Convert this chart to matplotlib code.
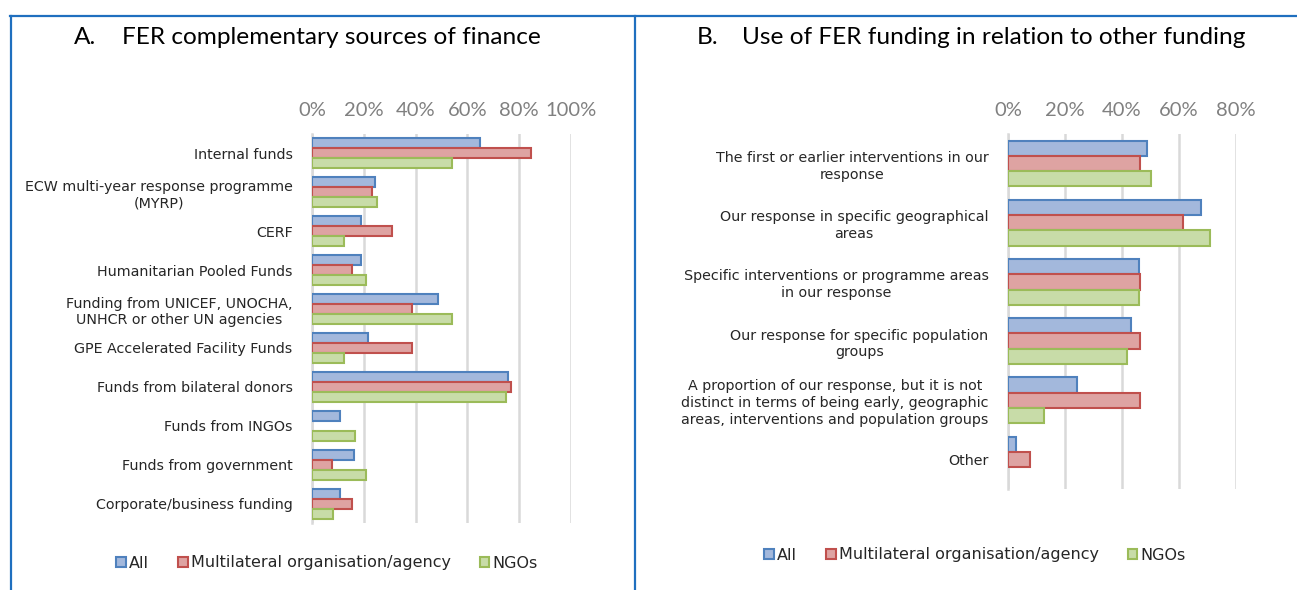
import matplotlib
matplotlib.use("Agg")
import matplotlib.pyplot as plt
from matplotlib.lines import Line2D
from matplotlib.patches import Patch
import numpy as np

#%% Data
series = ['All', 'Multilateral organisation/agency', 'NGOs']

cats_a = ['Internal funds',
          'ECW multi-year response programme\n(MYRP)',
          'CERF',
          'Humanitarian Pooled Funds',
          'Funding from UNICEF, UNOCHA,\nUNHCR or other UN agencies',
          'GPE Accelerated Facility Funds',
          'Funds from bilateral donors',
          'Funds from INGOs',
          'Funds from government',
          'Corporate/business funding']
all_a = [0.65, 0.245, 0.19, 0.19, 0.487, 0.217, 0.757, 0.108, 0.162, 0.108]
multi_a = [0.846, 0.231, 0.308, 0.154, 0.385, 0.385, 0.769, 0.0, 0.077, 0.154]
ngo_a = [0.542, 0.25, 0.125, 0.208, 0.542, 0.125, 0.75, 0.167, 0.208, 0.083]

cats_b = ['The first or earlier interventions in our\nresponse',
          'Our response in specific geographical\nareas',
          'Specific interventions or programme areas\nin our response',
          'Our response for specific population\ngroups',
          'A proportion of our response, but it is not\ndistinct in terms of being early, geographic\nareas, interventions and population groups',
          'Other']
all_b = [0.486, 0.676, 0.459, 0.432, 0.243, 0.027]
multi_b = [0.462, 0.615, 0.462, 0.462, 0.462, 0.077]
ngo_b = [0.5, 0.708, 0.458, 0.417, 0.125, 0.0]

fills = ['#a3b8dc', '#dea3a2', '#c8dca8']
edges = ['#4f81bd', '#c0504d', '#9bbb59']

W, H = 1297, 590
fig = plt.figure(figsize=(W / 100, H / 100), dpi=100)


def px_axes(x0, y0, x1, y1):
    return fig.add_axes([x0 / W, 1 - y1 / H, (x1 - x0) / W, (y1 - y0) / H])


def draw_panel(ax, cats, vals, xmax, ticks):
    n = len(cats)
    y = np.arange(n)
    h = 0.257
    for i, v in enumerate(vals):
        v = np.array(v)
        # zero values get no outline, so nothing shows (as in Excel)
        ec = [edges[i] if x > 0 else 'none' for x in v]
        ax.barh(y + (i - 1) * h, v, height=h, color=fills[i], edgecolor=ec,
                linewidth=1.5, zorder=3)
    ax.set_ylim(n - 0.5, -0.5)
    ax.set_xlim(0, xmax)
    ax.set_yticks(y)
    ax.set_yticklabels(cats, fontsize=10.3, color='#262626', family='DejaVu Sans',
                       multialignment='center', linespacing=1.25)
    ax.set_xticks(ticks)
    ax.set_xticklabels([f'{int(round(t * 100))}%' for t in ticks], fontsize=14.5,
                       color='#808080', family='Lato')
    ax.xaxis.tick_top()
    ax.tick_params(axis='x', length=0, pad=11)
    ax.tick_params(axis='y', length=0, pad=14)
    for s in ['top', 'right', 'bottom']:
        ax.spines[s].set_visible(False)
    ax.spines['left'].set_color('#d9d9d9')
    ax.spines['left'].set_linewidth(1.8)
    ax.grid(axis='x', color='#d9d9d9', linewidth=1.8, zorder=0)
    ax.set_axisbelow(True)


ax1 = px_axes(312, 134, 571, 523)
draw_panel(ax1, cats_a, [all_a, multi_a, ngo_a], 1.0, [0, 0.2, 0.4, 0.6, 0.8, 1.0])
ax2 = px_axes(1008, 134, 1236, 489)
draw_panel(ax2, cats_b, [all_b, multi_b, ngo_b], 0.8, [0, 0.2, 0.4, 0.6, 0.8])

# titles
tsize = 17.6
fig.text(74 / W, 1 - 37 / H, 'A.', fontsize=tsize, family='Lato', va='center')
fig.text(122 / W, 1 - 37 / H, 'FER complementary sources of finance', fontsize=tsize,
         family='Lato', va='center')
fig.text(697 / W, 1 - 37 / H, 'B.', fontsize=tsize, family='Lato', va='center')
fig.text(742 / W, 1 - 37 / H, 'Use of FER funding in relation to other funding', fontsize=tsize,
         family='Lato', va='center')

# legends
handles = [Patch(facecolor=fills[i], edgecolor=edges[i], linewidth=1.5, label=series[i])
           for i in range(3)]
for cx, cy in [(327, 563), (975, 555)]:
    fig.legend(handles=handles, loc='center', bbox_to_anchor=(cx / W, 1 - cy / H), ncol=3,
               frameon=False, prop={'family': 'DejaVu Sans', 'size': 11.5},
               handlelength=0.6, handleheight=0.6, handletextpad=0.2, columnspacing=1.8,
               labelcolor='#262626')

# panel borders
blue = '#1f6fbf'
fig.add_artist(Line2D([10 / W, 1], [1 - 16 / H, 1 - 16 / H], color=blue, lw=1.6))
fig.add_artist(Line2D([11 / W, 11 / W], [0, 1 - 16 / H], color=blue, lw=1.6))
fig.add_artist(Line2D([635 / W, 635 / W], [0, 1 - 16 / H], color=blue, lw=1.6))

fig.savefig('out.png', dpi=100, facecolor='white')
